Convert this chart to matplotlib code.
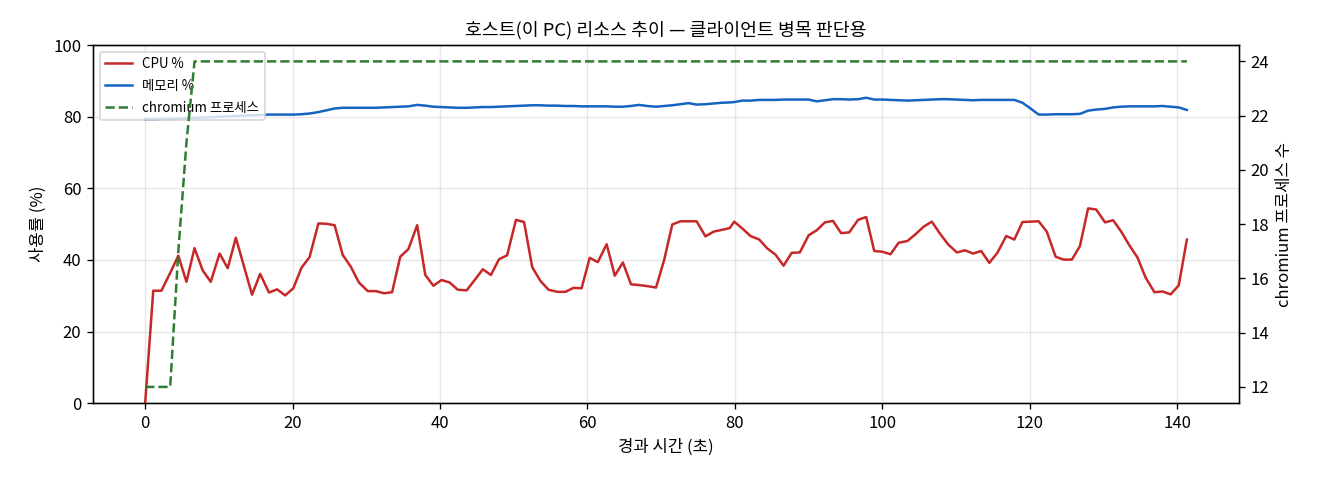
import matplotlib
matplotlib.use("Agg")
import matplotlib.pyplot as plt

plt.rcParams['font.family'] = ['Noto Sans CJK KR', 'DejaVu Sans']
plt.rcParams['axes.unicode_minus'] = False

# elapsed seconds of each sample
elapsed = [0.0, 1.1, 2.2, 3.4, 4.5, 5.6, 6.7, 7.8, 8.9, 10.1,
           11.2, 12.3, 13.4, 14.5, 15.6, 16.8, 17.9, 19.0, 20.1, 21.2,
           22.3, 23.5, 24.6, 25.7, 26.8, 27.9, 29.0, 30.2, 31.3, 32.4,
           33.5, 34.6, 35.7, 36.9, 38.0, 39.1, 40.2, 41.3, 42.4, 43.6,
           44.7, 45.8, 46.9, 48.0, 49.1, 50.3, 51.4, 52.5, 53.6, 54.7,
           55.9, 57.0, 58.1, 59.2, 60.3, 61.4, 62.6, 63.7, 64.8, 65.9,
           67.0, 68.1, 69.3, 70.4, 71.5, 72.6, 73.7, 74.8, 76.0, 77.1,
           78.2, 79.3, 79.9, 81.0, 82.1, 83.3, 84.4, 85.5, 86.6, 87.7,
           88.8, 90.0, 91.1, 92.2, 93.3, 94.4, 95.5, 96.7, 97.8, 98.9,
           100.0, 101.1, 102.2, 103.4, 104.5, 105.6, 106.7, 107.8, 108.9, 110.1,
           111.2, 112.3, 113.4, 114.5, 115.6, 116.8, 117.9, 119.0, 120.1, 121.2,
           122.3, 123.5, 124.6, 125.7, 126.8, 127.9, 129.0, 130.2, 131.3, 132.4,
           133.5, 134.6, 135.7, 136.9, 138.0, 139.1, 140.2, 141.3]

cpu_pct = [0.0, 31.4, 31.4, 36.4, 41.2, 33.9, 43.3, 37.1, 33.9, 41.8,
           37.7, 46.2, 38.2, 30.3, 36.1, 30.9, 31.8, 30.1, 32.1, 37.8,
           40.8, 50.2, 50.1, 49.7, 41.4, 38.1, 33.7, 31.3, 31.3, 30.7,
           31.0, 40.9, 43.0, 49.7, 35.8, 32.8, 34.4, 33.7, 31.7, 31.5,
           34.4, 37.4, 35.8, 40.2, 41.3, 51.2, 50.6, 38.0, 34.2, 31.7,
           31.1, 31.1, 32.2, 32.1, 40.6, 39.4, 44.4, 35.6, 39.3, 33.2,
           33.0, 32.7, 32.3, 40.0, 49.9, 50.8, 50.8, 50.8, 46.6, 47.9,
           48.4, 48.9, 50.7, 48.8, 46.7, 45.7, 43.2, 41.5, 38.4, 42.0,
           42.1, 46.9, 48.3, 50.5, 50.9, 47.5, 47.7, 51.2, 52.0, 42.5,
           42.3, 41.6, 44.8, 45.3, 47.2, 49.3, 50.7, 47.4, 44.4, 42.1,
           42.7, 41.8, 42.5, 39.2, 42.0, 46.7, 45.7, 50.6, 50.7, 50.8,
           47.9, 40.9, 40.1, 40.1, 43.9, 54.4, 54.1, 50.5, 51.1, 47.9,
           44.1, 40.7, 35.1, 31.0, 31.2, 30.4, 32.9, 45.7]

mem_pct = [79.3, 79.3, 79.4, 79.4, 79.5, 79.6, 79.7, 79.8, 79.9, 80.0,
           80.1, 80.2, 80.3, 80.4, 80.5, 80.6, 80.6, 80.6, 80.6, 80.7,
           80.9, 81.3, 81.8, 82.3, 82.5, 82.5, 82.5, 82.5, 82.5, 82.6,
           82.7, 82.8, 82.9, 83.3, 83.1, 82.8, 82.7, 82.6, 82.5, 82.5,
           82.6, 82.7, 82.7, 82.8, 82.9, 83.0, 83.1, 83.2, 83.2, 83.1,
           83.1, 83.0, 83.0, 82.9, 82.9, 82.9, 82.9, 82.8, 82.8, 83.0,
           83.3, 83.0, 82.8, 83.0, 83.2, 83.5, 83.8, 83.4, 83.5, 83.7,
           83.9, 84.0, 84.1, 84.5, 84.5, 84.7, 84.7, 84.7, 84.8, 84.8,
           84.8, 84.8, 84.3, 84.6, 84.9, 84.9, 84.8, 84.9, 85.3, 84.8,
           84.8, 84.7, 84.6, 84.5, 84.6, 84.7, 84.8, 84.9, 84.9, 84.8,
           84.7, 84.6, 84.7, 84.7, 84.7, 84.7, 84.7, 83.9, 82.3, 80.6,
           80.6, 80.7, 80.7, 80.7, 80.8, 81.7, 82.0, 82.2, 82.6, 82.8,
           82.9, 82.9, 82.9, 82.9, 83.0, 82.8, 82.6, 81.9]

chromium_procs = [12, 12, 12, 12, 17, 21] + [24] * 122

fig, ax1 = plt.subplots(figsize=(11, 4), dpi=120)
fig.subplots_adjust(left=0.0705, right=0.9386, top=0.906, bottom=0.160)

l1, = ax1.plot(elapsed, cpu_pct, color='#c62828', lw=1.5, label='CPU %')
l2, = ax1.plot(elapsed, mem_pct, color='#1565c0', lw=1.5, label='메모리 %')
ax1.set_ylim(0, 100)
ax1.set_ylabel('사용률 (%)')
ax1.set_xlabel('경과 시간 (초)')
ax1.grid(True, alpha=0.3)

ax2 = ax1.twinx()
l3, = ax2.plot(elapsed, chromium_procs, color='#2e7d32', lw=1.5, ls='--',
               label='chromium 프로세스')
ax2.set_ylabel('chromium 프로세스 수')

ax1.legend(handles=[l1, l2, l3], loc='upper left', fontsize=8, labelspacing=0.6)
ax1.set_title('호스트(이 PC) 리소스 추이 — 클라이언트 병목 판단용', fontsize=11)

fig.savefig('out.png')
